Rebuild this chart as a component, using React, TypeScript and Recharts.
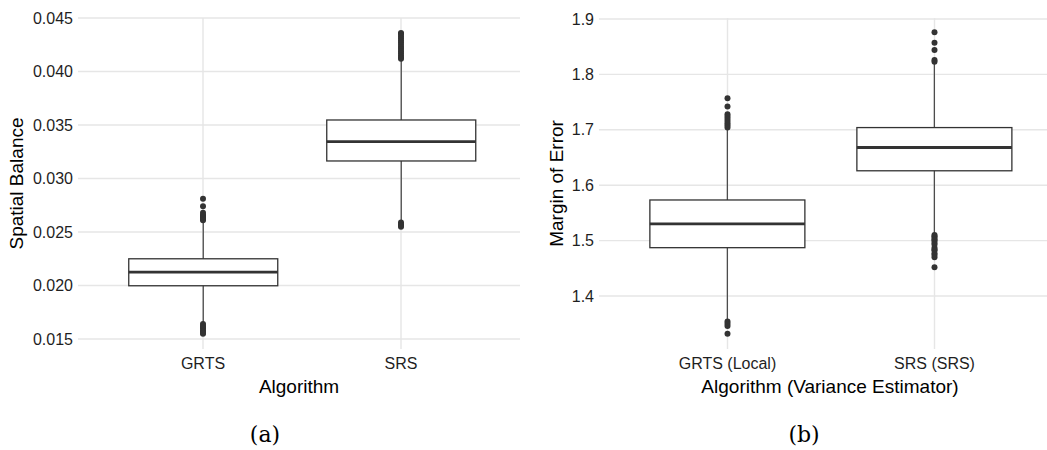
import { ComposedChart, Bar, Scatter, XAxis, YAxis, CartesianGrid } from 'recharts';

// (a) spatial balance by algorithm
const balanceCategories = ['GRTS', 'SRS'];
const balanceLower = [0.0166, 0.0261];
const balanceQ1 = [0.01998, 0.03164];
const balanceMedian = [0.02126, 0.03344];
const balanceQ3 = [0.0225, 0.03547];
const balanceUpper = [0.026, 0.0411];
const balanceOutliersGRTS = [
  0.0281, 0.0274, 0.0268, 0.0266, 0.0265, 0.0264, 0.0263, 0.0262, 0.0261,
  0.0164, 0.0162, 0.0161, 0.016, 0.0158, 0.0157, 0.0156, 0.0155,
];
const balanceOutliersSRS = [
  0.0436, 0.0435, 0.0433, 0.0431, 0.0429, 0.0427, 0.0425, 0.0423, 0.0421,
  0.0419, 0.0417, 0.0415, 0.0413, 0.0412, 0.0259, 0.0257, 0.0256, 0.0255,
];
const balanceTicks = [0.015, 0.02, 0.025, 0.03, 0.035, 0.04, 0.045];

// (b) margin of error by algorithm / variance estimator
const errorCategories = ['GRTS (Local)', 'SRS (SRS)'];
const errorLower = [1.357, 1.513];
const errorQ1 = [1.4872, 1.626];
const errorMedian = [1.53, 1.668];
const errorQ3 = [1.5733, 1.704];
const errorUpper = [1.702, 1.82];
const errorOutliersGRTS = [
  1.757, 1.742, 1.728, 1.724, 1.72, 1.716, 1.712, 1.708, 1.704,
  1.354, 1.35, 1.346, 1.332,
];
const errorOutliersSRS = [
  1.876, 1.857, 1.844, 1.826, 1.823, 1.51, 1.508, 1.505, 1.502, 1.5, 1.496,
  1.493, 1.487, 1.484, 1.482, 1.477, 1.474, 1.47, 1.452,
];
const errorTicks = [1.4, 1.5, 1.6, 1.7, 1.8, 1.9];

const buildRows = (
  cats: string[], lower: number[], q1: number[], med: number[], q3: number[], upper: number[]
) =>
  cats.map((name, i) => ({
    name,
    whisker: [lower[i], upper[i]],
    lower: lower[i],
    q1: q1[i],
    median: med[i],
    q3: q3[i],
    upper: upper[i],
  }));

const buildOutliers = (cats: string[], lists: number[][]) =>
  cats.flatMap((name, i) => lists[i].map((value) => ({ name, value })));

// bar covers lower..upper whisker; the box parts are placed inside it on the same linear scale
const BoxShape = (props: any) => {
  const { x, y, width, height, payload } = props;
  const { lower, upper, q1, median, q3 } = payload;
  const toY = (v: number) => y + (height * (upper - v)) / (upper - lower);
  const cx = x + width / 2;
  return (
    <g>
      <line x1={cx} x2={cx} y1={toY(upper)} y2={toY(lower)} stroke="#4d4d4d" strokeWidth={1.3} />
      <rect x={x} y={toY(q3)} width={width} height={toY(q1) - toY(q3)} fill="#fff" stroke="#333" strokeWidth={1.3} />
      <line x1={x} x2={x + width} y1={toY(median)} y2={toY(median)} stroke="#333" strokeWidth={2.8} />
    </g>
  );
};

const OutlierDot = (props: any) => <circle cx={props.cx} cy={props.cy} r={3} fill="#333" />;

interface PanelProps {
  rows: any[];
  outliers: { name: string; value: number }[];
  ticks: number[];
  domain: [number, number];
  digits: number;
  yLabel: string;
  xLabel: string;
  width: number;
  rightMargin: number;
  yAxisWidth: number;
  yLabelOffset: number;
  padding: { left: number; right: number };
}

function BoxPanel(p: PanelProps) {
  const tickStyle = { fontSize: 16, fill: '#1f1f1f' };
  return (
    <ComposedChart
      width={p.width}
      height={400}
      data={p.rows}
      margin={{ top: 18, right: p.rightMargin, bottom: 0, left: 0 }}
      barCategoryGap="12.5%"
    >
      <CartesianGrid stroke="#e6e6e6" strokeWidth={1.4} syncWithTicks />
      <XAxis
        dataKey="name"
        type="category"
        allowDuplicatedCategory={false}
        height={51}
        padding={p.padding}
        axisLine={false}
        tickLine={false}
        tickSize={0}
        tickMargin={9}
        tick={tickStyle}
        label={{ value: p.xLabel, position: 'insideBottom', offset: 7, style: { fontSize: 19, fill: '#000' } }}
      />
      <YAxis
        type="number"
        domain={p.domain}
        ticks={p.ticks}
        allowDataOverflow
        width={p.yAxisWidth}
        axisLine={false}
        tickLine={false}
        tickSize={0}
        tickMargin={5}
        tick={tickStyle}
        tickFormatter={(v: number) => v.toFixed(p.digits)}
        label={{
          value: p.yLabel,
          angle: -90,
          position: 'insideLeft',
          offset: p.yLabelOffset,
          style: { textAnchor: 'middle', fontSize: 19, fill: '#000' },
        }}
      />
      <Bar dataKey="whisker" shape={<BoxShape />} isAnimationActive={false} />
      <Scatter data={p.outliers} dataKey="value" shape={<OutlierDot />} isAnimationActive={false} />
    </ComposedChart>
  );
}

export default function App() {
  const balanceRows = buildRows(balanceCategories, balanceLower, balanceQ1, balanceMedian, balanceQ3, balanceUpper);
  const balanceOutliers = buildOutliers(balanceCategories, [balanceOutliersGRTS, balanceOutliersSRS]);
  const errorRows = buildRows(errorCategories, errorLower, errorQ1, errorMedian, errorQ3, errorUpper);
  const errorOutliers = buildOutliers(errorCategories, [errorOutliersGRTS, errorOutliersSRS]);

  return (
    <div
      style={{
        position: 'absolute',
        left: 0,
        top: 0,
        width: 1047,
        height: 450,
        overflow: 'hidden',
        background: '#fff',
        fontFamily: '"Liberation Sans", Arial, sans-serif',
      }}
    >
      <div style={{ position: 'absolute', left: 0, top: 0 }}>
        <BoxPanel
          rows={balanceRows}
          outliers={balanceOutliers}
          ticks={balanceTicks}
          domain={[0.01407, 0.045]}
          digits={3}
          yLabel="Spatial Balance"
          xLabel="Algorithm"
          width={530}
          rightMargin={10}
          yAxisWidth={78}
          yLabelOffset={16}
          padding={{ left: 26, right: 20 }}
        />
      </div>
      <div style={{ position: 'absolute', left: 530, top: 0 }}>
        <BoxPanel
          rows={errorRows}
          outliers={errorOutliers}
          ticks={errorTicks}
          domain={[1.3043, 1.9018]}
          digits={1}
          yLabel="Margin of Error"
          xLabel="Algorithm (Variance Estimator)"
          width={531}
          rightMargin={0}
          yAxisWidth={69}
          yLabelOffset={26}
          padding={{ left: 25, right: 23 }}
        />
      </div>
      <svg width={1047} height={450} style={{ position: 'absolute', left: 0, top: 0, pointerEvents: 'none' }}>
        <text x={265} y={442} textAnchor="middle" fontFamily='"DejaVu Serif", serif' fontSize={22} fill="#000">
          (a)
        </text>
        <text x={804} y={442} textAnchor="middle" fontFamily='"DejaVu Serif", serif' fontSize={22} fill="#000">
          (b)
        </text>
      </svg>
    </div>
  );
}
